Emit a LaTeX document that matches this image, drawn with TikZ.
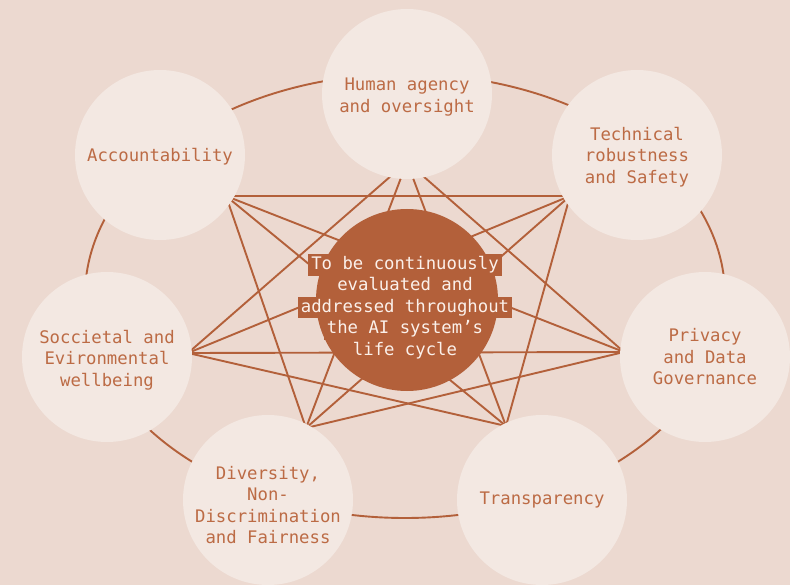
\documentclass[tikz,border=0pt]{standalone}
\usepackage{fontspec}
\setmonofont{DejaVu Sans Mono}
\definecolor{bg}{HTML}{ECD9D0}
\definecolor{disc}{HTML}{F3E8E2}
\definecolor{rust}{HTML}{B3603A}
\definecolor{labelc}{HTML}{BC6B45}
\definecolor{ctext}{HTML}{FBF0EA}
\tikzset{
  link/.style={draw=rust, line width=1.9pt},
  ring/.style={draw=rust, line width=1.9pt},
  pillar/.style={circle, fill=disc, minimum size=170pt, inner sep=0pt},
  ptext/.style={align=center, text=labelc, inner sep=0pt,
     font=\ttfamily\fontsize{17.3}{21.5}\selectfont},
  hub/.style={circle, fill=rust, minimum size=182pt, inner sep=0pt},
  hubline/.style={fill=rust, text=ctext, inner xsep=3pt, inner ysep=0pt, minimum height=21.4pt,
     text height=13pt, text depth=4pt, font=\ttfamily\fontsize{17.3}{21.5}\selectfont}
}
\begin{document}
\begin{tikzpicture}[x=1pt,y=-1pt]
\useasboundingbox (0,0) rectangle (790,585);
\clip (0,0) rectangle (790,585);
\fill[bg] (0,0) rectangle (790,585);
% outer ring
\draw[ring] (405,296) ellipse [x radius=320, y radius=222];
% anchor points
\coordinate (aA) at (226,196);
\coordinate (aH) at (407,162);
\coordinate (aT) at (570,196);
\coordinate (aP) at (624,352);
\coordinate (aR) at (506,426);
\coordinate (aD) at (306,428);
\coordinate (aS) at (188,353);
% connectors
\draw[link] (aA) -- (aT);
\draw[link] (aA) -- (aP);
\draw[link] (aA) -- (aR);
\draw[link] (aA) -- (aD);
\draw[link] (aH) -- (aP);
\draw[link] (aH) -- (aR);
\draw[link] (aH) -- (aD);
\draw[link] (aH) -- (aS);
\draw[link] (aT) -- (aR);
\draw[link] (aT) -- (aD);
\draw[link] (aT) -- (aS);
\draw[link] (aP) -- (aD);
\draw[link] (aP) -- (aS);
\draw[link] (aR) -- (aS);
% hub
\node[hub] (hub) at (407,300) {};
\node[hubline] (h1) at (405,265) {To be continuously};
\node[hubline] (h2) at (405,286.4) {evaluated and};
\node[hubline] (h3) at (405,307.8) {addressed throughout};
\node[hubline] (h4) at (405,329.2) {the AI system’s};
\node[hubline] (h5) at (405,350.6) {life cycle};
% pillars
\node[pillar, label={[ptext, yshift=-2]center:Accountability}] (A) at (160,155) {};
\node[pillar, label={[ptext, yshift=-3]center:{Human agency\\and oversight}}] (H) at (407,94) {};
\node[pillar, label={[ptext, yshift=-2]center:{Technical\\robustness\\and Safety}}] (T) at (637,155) {};
\node[pillar, label={[ptext, yshift=0]center:{Privacy\\and Data\\Governance}}] (P) at (705,357) {};
\node[pillar, label={[ptext, yshift=0]center:Transparency}] (R) at (542,500) {};
\node[pillar, label={[ptext, yshift=-5]center:{Diversity,\\Non-\\Discrimination\\and Fairness}}] (D) at (268,500) {};
\node[pillar, label={[ptext, yshift=-3]center:{Soccietal and\\Evironmental\\wellbeing}}] (S) at (107,357) {};
\end{tikzpicture}
\end{document}
